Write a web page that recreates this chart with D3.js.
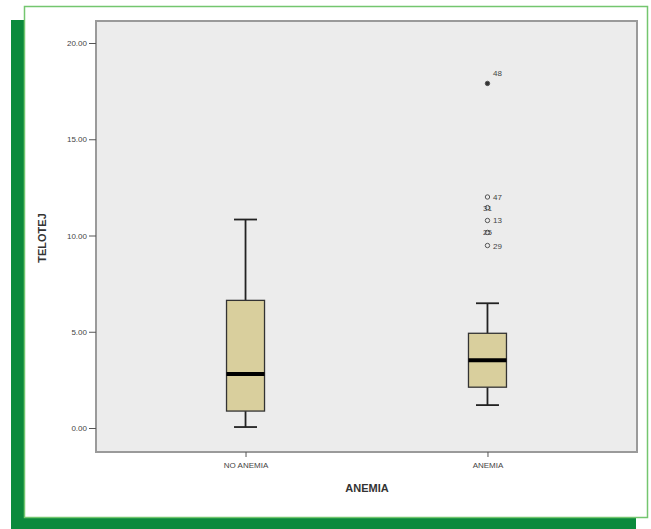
<!DOCTYPE html>
<html>
<head>
<meta charset="utf-8">
<script src="https://cdn.jsdelivr.net/npm/d3@7/dist/d3.min.js"></script>
<style>
  html, body { margin: 0; padding: 0; background: #ffffff; }
  svg { display: block; }
</style>
</head>
<body>
<svg id="chart" width="651" height="529"></svg>
<script>
// Groups on the x axis
const categories = ["NO ANEMIA", "ANEMIA"];
// Five-number summaries per group (whisker low, Q1, median, Q3, whisker high)
const whiskerLow  = [0.05, 1.19];
const q1          = [0.88, 2.12];
const median      = [2.80, 3.52];
const q3          = [6.63, 4.92];
const whiskerHigh = [10.83, 6.48];
// Outlying cases in the ANEMIA group and their case numbers
const outlierGroup  = ["ANEMIA", "ANEMIA", "ANEMIA", "ANEMIA", "ANEMIA", "ANEMIA"];
const outlierValues = [17.9, 12.0, 11.45, 10.78, 10.16, 9.48];
const outlierCases  = ["48", "47", "31", "13", "25", "29"];
// Y axis ticks
const yTicks = [0, 5, 10, 15, 20];

const svg = d3.select("#chart");
const font = "'Liberation Sans Narrow', 'Liberation Sans', Arial, sans-serif";

// Page decoration: green shadow block behind a white card
svg.append("rect").attr("x", 11).attr("y", 20).attr("width", 625).attr("height", 509)
  .attr("fill", "#0b8a3c");
svg.append("rect").attr("x", 24.5).attr("y", 6.5).attr("width", 623).attr("height", 511)
  .attr("fill", "#ffffff").attr("stroke", "#74c66f").attr("stroke-width", 1.5);

// Plot area
const plot = { left: 96, top: 21, right: 637, bottom: 452 };

svg.append("rect")
  .attr("x", plot.left).attr("y", plot.top)
  .attr("width", plot.right - plot.left).attr("height", plot.bottom - plot.top)
  .attr("fill", "#ececec").attr("stroke", "#9a9a9a").attr("stroke-width", 2);

const x = d3.scalePoint().domain(categories).range([plot.left, plot.right]).padding(0.618);
const y = d3.scaleLinear().domain([0, 20]).range([428, 43]);

// Y axis
const yAxis = d3.axisLeft(y).tickValues(yTicks).tickFormat(d3.format(".2f")).tickSize(7).tickPadding(2);
const gy = svg.append("g").attr("transform", `translate(${plot.left},0)`).call(yAxis);
gy.select(".domain").remove();
gy.selectAll(".tick line").attr("stroke", "#555").attr("stroke-width", 1);
gy.selectAll(".tick text").attr("fill", "#444")
  .style("font-family", font).style("font-size", "8px");

// X axis
const xAxis = d3.axisBottom(x).tickSize(5).tickPadding(5);
const gx = svg.append("g").attr("transform", `translate(0,${plot.bottom})`).call(xAxis);
gx.select(".domain").remove();
gx.selectAll(".tick line").attr("stroke", "#555").attr("stroke-width", 1);
gx.selectAll(".tick text").attr("fill", "#444")
  .style("font-family", font).style("font-size", "8px");

// Axis titles
svg.append("text")
  .attr("transform", "translate(46,238) rotate(-90)")
  .attr("text-anchor", "middle")
  .style("font-family", font)
  .style("font-size", "11px").style("font-weight", "bold").attr("fill", "#333")
  .text("TELOTEJ");
svg.append("text")
  .attr("x", 367).attr("y", 492)
  .attr("text-anchor", "middle")
  .style("font-family", font)
  .style("font-size", "11px").style("font-weight", "bold").attr("fill", "#333")
  .text("ANEMIA");

// Boxes
const boxW = 38, capW = 23;
const boxes = categories.map((c, i) => ({
  c, lo: whiskerLow[i], q1: q1[i], med: median[i], q3: q3[i], hi: whiskerHigh[i]
}));

const g = svg.append("g").selectAll("g").data(boxes).join("g")
  .attr("transform", d => `translate(${x(d.c)},0)`);

// whisker stems
g.append("line").attr("x1", 0).attr("x2", 0)
  .attr("y1", d => y(d.hi)).attr("y2", d => y(d.q3))
  .attr("stroke", "#222").attr("stroke-width", 1.8);
g.append("line").attr("x1", 0).attr("x2", 0)
  .attr("y1", d => y(d.q1)).attr("y2", d => y(d.lo))
  .attr("stroke", "#222").attr("stroke-width", 1.8);
// whisker caps
g.append("line").attr("x1", -capW / 2).attr("x2", capW / 2)
  .attr("y1", d => y(d.hi)).attr("y2", d => y(d.hi))
  .attr("stroke", "#222").attr("stroke-width", 1.8);
g.append("line").attr("x1", -capW / 2).attr("x2", capW / 2)
  .attr("y1", d => y(d.lo)).attr("y2", d => y(d.lo))
  .attr("stroke", "#222").attr("stroke-width", 1.8);
// box
g.append("rect").attr("x", -boxW / 2).attr("width", boxW)
  .attr("y", d => y(d.q3)).attr("height", d => y(d.q1) - y(d.q3))
  .attr("fill", "#d9cf9d").attr("stroke", "#333").attr("stroke-width", 1.3);
// median
g.append("line").attr("x1", -boxW / 2).attr("x2", boxW / 2)
  .attr("y1", d => y(d.med)).attr("y2", d => y(d.med))
  .attr("stroke", "#000").attr("stroke-width", 4);

// Outliers with case labels; crowded labels alternate between sitting on
// the marker and sitting to its right
const outliers = outlierValues.map((v, i) => ({ c: outlierGroup[i], v, label: outlierCases[i], i }));
const og = svg.append("g").selectAll("g").data(outliers).join("g")
  .attr("transform", d => `translate(${x(d.c)},${y(d.v)})`);
og.append("circle").attr("r", 2.2).attr("cx", 0)
  .attr("fill", "none").attr("stroke", "#555").attr("stroke-width", 1);
og.filter(d => d.i === 0).select("circle").attr("fill", "#333");
og.append("text")
  .attr("text-anchor", "middle")
  .attr("x", d => d.i === 0 ? 10 : (d.i % 2 === 1 ? 10 : 0))
  .attr("y", d => d.i === 0 ? -7 : 3)
  .style("font-family", font)
  .style("font-size", "8px").attr("fill", "#444")
  .text(d => d.label);
</script>
</body>
</html>
